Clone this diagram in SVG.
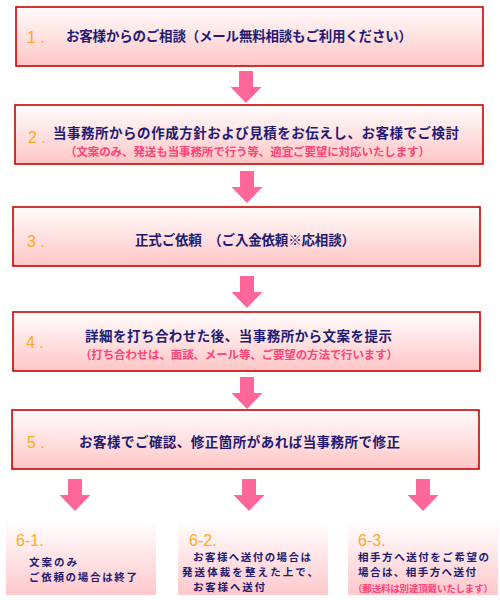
<svg xmlns="http://www.w3.org/2000/svg" width="500" height="600" viewBox="0 0 500 600">
<defs>
<linearGradient id="g" x1="0" y1="0" x2="0" y2="1">
<stop offset="0" stop-color="#fffcfc"/>
<stop offset="1" stop-color="#ffc6c6"/>
</linearGradient>
<linearGradient id="g2" x1="0" y1="0" x2="0" y2="1">
<stop offset="0" stop-color="#ffffff"/>
<stop offset="1" stop-color="#ffc8cc"/>
</linearGradient>
<path id="arr" d="M-7,0 H7 V16 H15.5 L0,32 L-15.5,16 H-7 Z" fill="#ff6699"/>
<style>
.box{fill:url(#g);stroke:#cc0000;stroke-width:1.6}
.sub{fill:url(#g2)}
text{font-family:"Noto Sans CJK JP","Noto Sans",sans-serif;font-weight:bold}
.t{fill:#221a72;font-size:13.5px}
.p{fill:#ff4477;font-size:11.5px}
.n{fill:#ffaa22;font-size:16px;font-family:"Liberation Sans","Noto Sans",sans-serif;font-weight:normal}
.s{fill:#221a72;font-size:10.5px}
</style>
</defs>
<g id="connectors">
<use href="#arr" x="246" y="71"/>
<use href="#arr" x="247" y="171"/>
<use href="#arr" x="247" y="276"/>
<use href="#arr" x="247" y="377"/>
<use href="#arr" x="75" y="479"/>
<use href="#arr" x="249" y="479"/>
<use href="#arr" x="423" y="479"/>
</g>
<g id="step1">
<rect class="box" x="16" y="7" width="467" height="59"/>
<text class="n" x="27" y="43">1 .</text>
<text class="t" x="66" y="41" textLength="346">お客様からのご相談（メール無料相談もご利用ください）</text>
</g>
<g id="step2">
<rect class="box" x="15" y="105" width="468" height="59"/>
<text class="n" x="28" y="143">2 .</text>
<text class="t" x="53" y="138" textLength="406">当事務所からの作成方針および見積をお伝えし、お客様でご検討</text>
<text class="p" x="65" y="156" textLength="365">（文案のみ、発送も当事務所で行う等、適宜ご要望に対応いたします）</text>
</g>
<g id="step3">
<rect class="box" x="13" y="207" width="467" height="59"/>
<text class="n" x="27" y="247">3 .</text>
<text class="t" x="135" y="245" textLength="220">正式ご依頼　（ご入金依頼※応相談）</text>
</g>
<g id="step4">
<rect class="box" x="13" y="312" width="467" height="59"/>
<text class="n" x="26" y="348">4 .</text>
<text class="t" x="85" y="341" textLength="307">詳細を打ち合わせた後、当事務所から文案を提示</text>
<text class="p" x="80" y="359" textLength="318">（打ち合わせは、面談、メール等、ご要望の方法で行います）</text>
</g>
<g id="step5">
<rect class="box" x="12" y="410" width="467" height="59"/>
<text class="n" x="27" y="448">5 .</text>
<text class="t" x="79" y="447" textLength="321">お客様でご確認、修正箇所があれば当事務所で修正</text>
</g>
<g id="step6-1">
<rect class="sub" x="6" y="520" width="150" height="75"/>
<text class="n" x="16" y="546">6-1.</text>
<text class="s" x="29" y="566" textLength="48">文案のみ</text>
<text class="s" x="29" y="581" textLength="108">ご依頼の場合は終了</text>
</g>
<g id="step6-2">
<rect class="sub" x="178" y="520" width="150" height="75"/>
<text class="n" x="189" y="546">6-2.</text>
<text class="s" x="193" y="561" textLength="118">お客様へ送付の場合は</text>
<text class="s" x="182" y="576" textLength="136">発送体裁を整えた上で、</text>
<text class="s" x="193" y="591" textLength="72">お客様へ送付</text>
</g>
<g id="step6-3">
<rect class="sub" x="348" y="520" width="150" height="75"/>
<text class="n" x="358" y="546">6-3.</text>
<text class="s" x="358" y="561" textLength="131">相手方へ送付をご希望の</text>
<text class="s" x="358" y="576" textLength="118">場合は、相手方へ送付</text>
<text class="p" x="353" y="592" style="font-size:9.5px" textLength="140">（郵送料は別途頂戴いたします）</text>
</g>
</svg>
